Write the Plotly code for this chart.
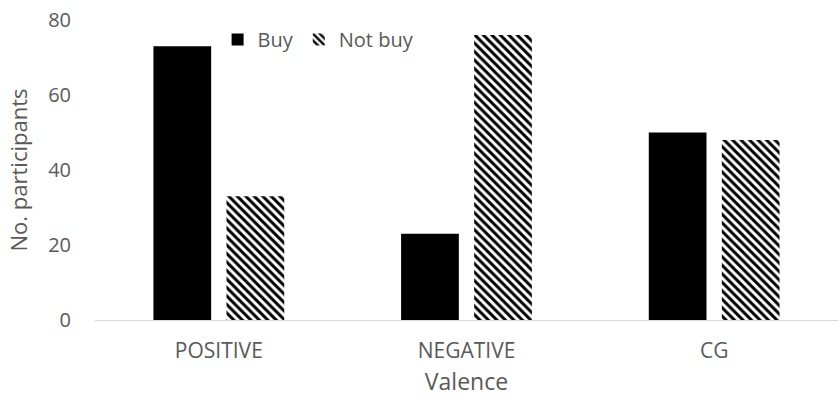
import plotly.graph_objects as go

categories = ["POSITIVE", "NEGATIVE", "CG"]
buy = [73, 23, 50]
not_buy = [33, 76, 48]

FONT = "Open Sans"
GRAY = "#595959"

fig = go.Figure()
fig.add_trace(go.Bar(name="Buy", x=categories, y=buy, marker=dict(color="black", line=dict(width=0))))
fig.add_trace(go.Bar(name="Not buy", x=categories, y=not_buy,
                     marker=dict(color="white", line=dict(width=0),
                                 pattern=dict(shape="\\", fgcolor="black", bgcolor="white",
                                              size=6, solidity=0.5, fillmode="replace"))))

fig.update_layout(
    width=839, height=398,
    margin=dict(l=95, r=1, t=20, b=78),
    barmode="group", bargap=0.41, bargroupgap=0.21,
    plot_bgcolor="white", paper_bgcolor="white",
    font=dict(family=FONT, size=20, color=GRAY),
    legend=dict(orientation="h", x=0.165, y=1.0, xanchor="left", yanchor="top",
                font=dict(size=20, color=GRAY), bgcolor="rgba(0,0,0,0)",
                itemwidth=30, tracegroupgap=0),
    xaxis=dict(showline=True, linecolor="#d9d9d9", linewidth=1, ticks="",
               title=dict(text="Valence", font=dict(size=23, color=GRAY), standoff=10),
               tickfont=dict(size=21, color=GRAY), ticklabelstandoff=12),
    yaxis=dict(range=[0, 80], dtick=20, showgrid=False, zeroline=False, showline=False,
               title=dict(text="No. participants", font=dict(size=22, color=GRAY), standoff=14),
               tickfont=dict(size=20, color=GRAY), ticks="", ticklabelstandoff=23),
)

fig.write_html("out.html")
